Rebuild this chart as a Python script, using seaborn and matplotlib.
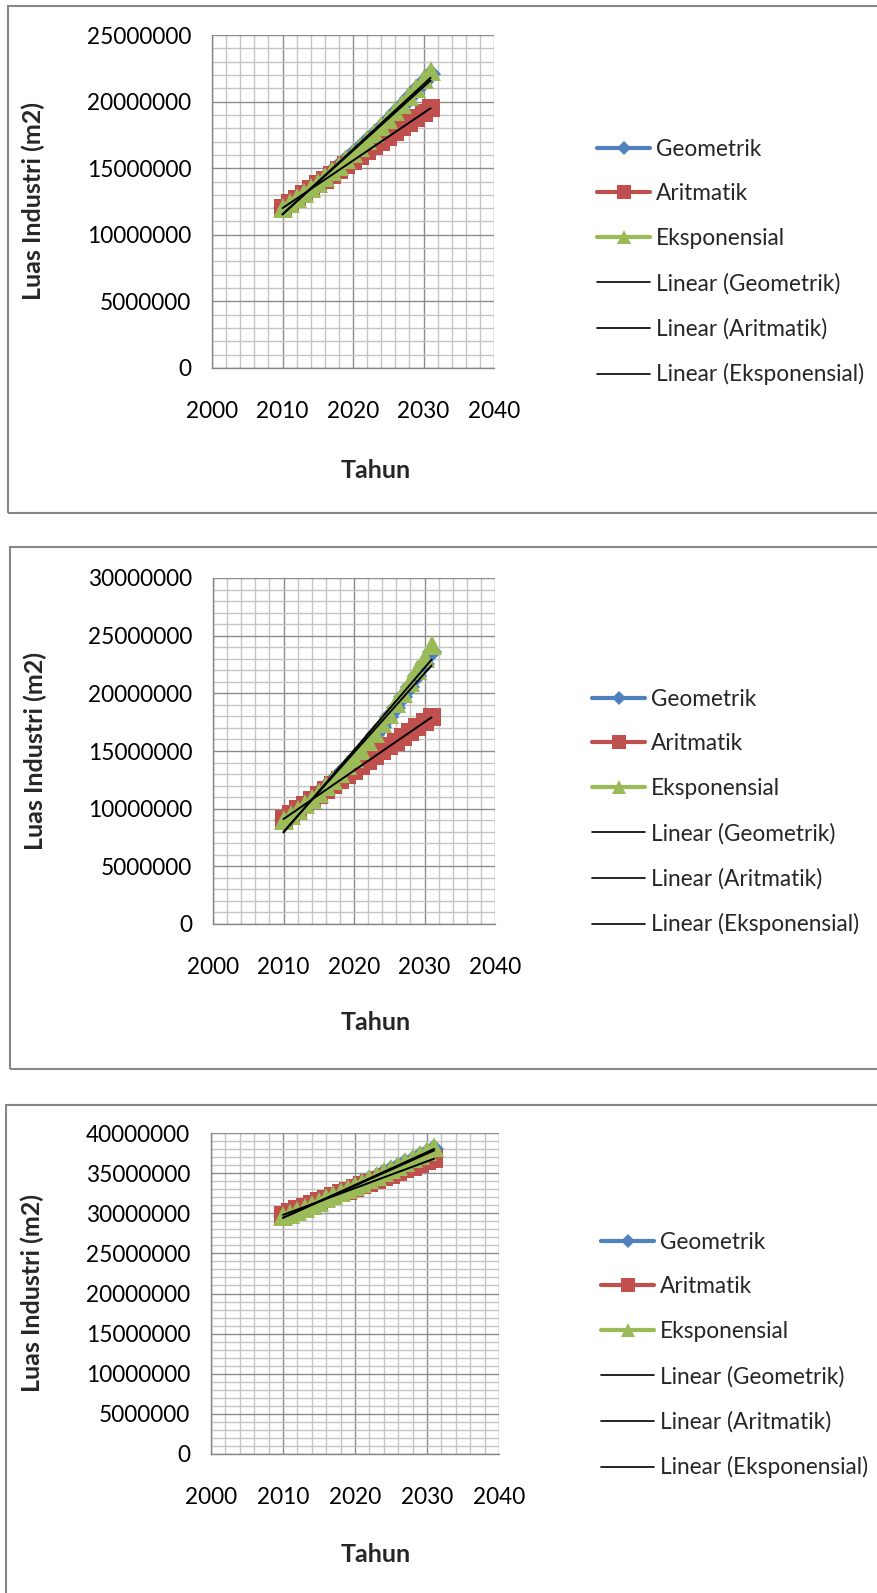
import matplotlib
matplotlib.use("Agg")
import matplotlib.pyplot as plt
from matplotlib.patches import Rectangle
from matplotlib.lines import Line2D
from matplotlib.ticker import MultipleLocator
import seaborn as sns

# ---------------------------------------------------------------- data
years = list(range(2010, 2032))

# projected industrial area, in millions of m2
geo_1 = [12.00, 12.35, 12.72, 13.09, 13.48, 13.88, 14.29, 14.71, 15.14, 15.59, 16.05,
         16.52, 17.01, 17.51, 18.03, 18.56, 19.11, 19.67, 20.25, 20.85, 21.46, 22.10]
ari_1 = [12.00, 12.36, 12.71, 13.07, 13.43, 13.79, 14.14, 14.50, 14.86, 15.21, 15.57,
         15.93, 16.28, 16.64, 17.00, 17.36, 17.71, 18.07, 18.43, 18.78, 19.14, 19.50]
eks_1 = [12.00, 12.36, 12.73, 13.11, 13.51, 13.91, 14.33, 14.76, 15.20, 15.66, 16.13,
         16.61, 17.11, 17.62, 18.15, 18.70, 19.26, 19.83, 20.43, 21.04, 21.67, 22.32]

geo_2 = [9.00, 9.42, 9.87, 10.33, 10.82, 11.32, 11.86, 12.41, 13.00, 13.61, 14.25,
         14.92, 15.62, 16.35, 17.12, 17.93, 18.77, 19.65, 20.57, 21.54, 22.55, 23.61]
ari_2 = [9.10, 9.52, 9.94, 10.36, 10.78, 11.20, 11.62, 12.04, 12.46, 12.88, 13.30,
         13.72, 14.14, 14.56, 14.98, 15.40, 15.82, 16.24, 16.66, 17.08, 17.50, 17.92]
eks_2 = [9.00, 9.43, 9.89, 10.37, 10.87, 11.39, 11.94, 12.52, 13.12, 13.75, 14.42,
         15.11, 15.84, 16.60, 17.40, 18.24, 19.12, 20.05, 21.01, 22.03, 23.09, 24.20]

geo_3 = [29.60, 29.95, 30.31, 30.68, 31.04, 31.41, 31.79, 32.17, 32.56, 32.95, 33.34,
         33.74, 34.14, 34.55, 34.96, 35.38, 35.81, 36.23, 36.67, 37.11, 37.55, 38.00]
ari_3 = [29.80, 30.13, 30.47, 30.80, 31.13, 31.47, 31.80, 32.13, 32.47, 32.80, 33.13,
         33.47, 33.80, 34.13, 34.47, 34.80, 35.13, 35.47, 35.80, 36.13, 36.47, 36.80]
eks_3 = [29.60, 29.96, 30.33, 30.70, 31.07, 31.45, 31.84, 32.23, 32.62, 33.02, 33.42,
         33.83, 34.24, 34.66, 35.09, 35.51, 35.95, 36.39, 36.83, 37.28, 37.74, 38.20]

series_names = ["Geometrik", "Aritmatik", "Eksponensial"]
trend_names = ["Linear (Geometrik)", "Linear (Aritmatik)", "Linear (Eksponensial)"]
panel_series = [(geo_1, ari_1, eks_1), (geo_2, ari_2, eks_2), (geo_3, ari_3, eks_3)]
y_max = [25000000, 30000000, 40000000]
y_step = 5000000
x_ticks = [2000, 2010, 2020, 2030, 2040]
x_label = "Tahun"
y_label = "Luas Industri (m2)"

# ---------------------------------------------------------------- style
sns.set_style("white")
plt.rcParams["font.family"] = ["Lato", "DejaVu Sans"]
FS = 16.3
FS_TITLE = 18

colors = ["#4F81BD", "#C0504D", "#9BBB59"]
markers = ["D", "s", "^"]
plot_ms = [10.0, 12.5, 14.0]
legend_ms = [7.0, 9.5, 10.5]
GRID_MAJOR = "#8C8C8C"
GRID_MINOR = "#C4C4C4"
FRAME = "#868686"

W, H = 877, 1593
fig = plt.figure(figsize=(W / 100, H / 100), dpi=100)


def px_rect(l, t, r, b):
    return [l / W, 1 - b / H, (r - l) / W, (b - t) / H]


# panel layout in pixels: axes box, outer frame, x title y, legend anchor
axes_px = [(212, 35, 494, 368), (213, 578, 495, 924), (211, 1133, 499, 1454)]
frames_px = [(8, 6, 900, 513), (10, 547, 900, 1069), (6, 1105, 900, 1620)]
xtitle_y = [470, 1022, 1555]
ytitle_x = [33, 35, 32]
legend_px = [(597, 262), (592, 812), (601, 1355)]

legend_handles = [Line2D([], [], color=c, marker=m, ms=ms, mew=0, lw=3.0)
                  for c, m, ms in zip(colors, markers, legend_ms)]
legend_handles += [Line2D([], [], color="black", lw=1.2) for _ in trend_names]

for i in range(3):
    # outer chart frame
    l, t, r, b = frames_px[i]
    fig.patches.append(Rectangle((l / W, 1 - b / H), (r - l) / W, (b - t) / H,
                                 transform=fig.transFigure, fill=False,
                                 edgecolor=FRAME, lw=1.5, zorder=0))

    ax = fig.add_axes(px_rect(*axes_px[i]))
    ax.set_facecolor("none")

    for vals, name, c, m, ms in zip(panel_series[i], series_names, colors, markers, plot_ms):
        sns.lineplot(x=years, y=[v * 1e6 for v in vals], ax=ax, color=c, marker=m,
                     markersize=ms, markeredgewidth=0, lw=2.4, zorder=2)
    for vals in panel_series[i]:
        sns.regplot(x=years, y=[v * 1e6 for v in vals], ax=ax, scatter=False, ci=None,
                    color="black", truncate=True, line_kws=dict(lw=1.4, zorder=4))

    ax.set_xlim(2000, 2040)
    ax.set_ylim(0, y_max[i])
    ax.set_xticks(x_ticks)
    ax.set_xticklabels([str(v) for v in x_ticks])
    yt = list(range(0, y_max[i] + 1, y_step))
    ax.set_yticks(yt)
    ax.set_yticklabels([str(v) for v in yt])
    ax.xaxis.set_minor_locator(MultipleLocator(2))
    ax.yaxis.set_minor_locator(MultipleLocator(1000000))
    ax.set_axisbelow(True)
    ax.grid(which="major", color=GRID_MAJOR, lw=1.0)
    ax.grid(which="minor", color=GRID_MINOR, lw=1.0)
    for side in ["top", "right"]:
        ax.spines[side].set_visible(False)
    for side in ["left", "bottom"]:
        ax.spines[side].set_color(FRAME)
        ax.spines[side].set_linewidth(1.0)
    ax.tick_params(which="major", length=6, width=1.0, color=FRAME,
                   labelsize=FS, labelcolor="black", direction="out")
    ax.tick_params(axis="x", which="major", pad=18)
    ax.tick_params(axis="y", which="major", pad=9)
    ax.tick_params(which="minor", length=0)
    ax.set_xlabel("")
    ax.set_ylabel("")

    # axis titles
    l, t, r, b = axes_px[i]
    fig.text(ytitle_x[i] / W, 1 - ((t + b) / 2) / H, y_label, rotation=90,
             fontsize=FS_TITLE, fontweight="bold", ha="center", va="center")
    fig.text(376 / W, 1 - xtitle_y[i] / H, x_label, fontsize=FS_TITLE,
             fontweight="bold", ha="center", va="center")

    lx, ly = legend_px[i]
    ax.legend(legend_handles, series_names + trend_names, loc="center left",
              bbox_to_anchor=(lx / W, 1 - ly / H), bbox_transform=fig.transFigure,
              frameon=False, fontsize=FS, borderpad=0, borderaxespad=0,
              handlelength=2.35, handletextpad=0.25, labelspacing=1.05)

fig.savefig("out.png", dpi=100)
